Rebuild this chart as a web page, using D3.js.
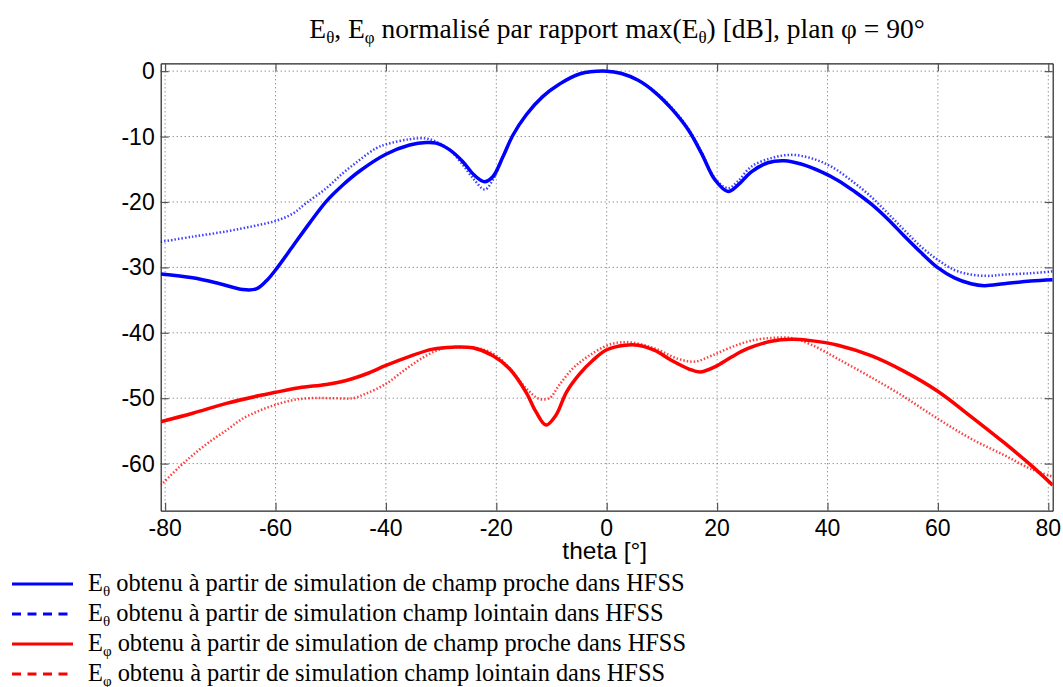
<!DOCTYPE html>
<html><head><meta charset="utf-8">
<script src="https://cdn.jsdelivr.net/npm/d3@7"></script>
<style>body{margin:0;background:#fff}svg{display:block}</style>
</head><body>
<svg id="c" width="1063" height="687"></svg>
<script>
// ---- data ----
const xTicks = [-80, -60, -40, -20, 0, 20, 40, 60, 80];
const yTicks = [0, -10, -20, -30, -40, -50, -60];

const thetaNearTheta = [-80.8,-75,-70.1,-65.9,-63.5,-61.7,-60,-56.9,-53.8,-50.8,-47.8,-44.8,-40,-35.7,-32.7,-30.9,-28.5,-26.1,-24,-22.1,-20.6,-18.8,-17,-14.6,-11.6,-8.6,-4.8,0,2.7,5.7,8.7,11.7,14.8,17.2,19.6,22.0,23.8,26.2,29.2,32.2,35.2,38.9,41.9,44.9,47.9,50.9,53.9,56.9,59.9,63.0,66.0,68.4,72.0,76.8,80.8];
const valNearTheta = [-31.0,-31.6,-32.5,-33.4,-33.3,-32.1,-30.4,-26.8,-23.2,-19.9,-17.4,-15.3,-12.7,-11.3,-10.9,-11.0,-12.0,-13.8,-15.9,-16.9,-16.1,-13.1,-9.8,-6.7,-3.9,-2.0,-0.4,0,-0.36,-1.4,-3.2,-5.7,-9.0,-12.6,-16.6,-18.4,-17.4,-15.4,-14.0,-13.7,-14.2,-15.4,-16.7,-18.4,-20.3,-22.6,-25.2,-27.7,-30.0,-31.6,-32.5,-32.8,-32.5,-32.1,-31.9];

const thetaFarTheta = [-80.8,-75,-68.9,-64.1,-60,-56.9,-54.5,-50.8,-47.8,-44.8,-41.8,-40,-35.7,-32.7,-30.9,-28.5,-26.1,-24,-22.1,-20.6,-18.8,-17,-14.6,-11.6,-8.6,-4.8,0,2.7,5.7,8.7,11.7,14.8,17.2,19.6,22,23.8,26.2,29.8,33.4,37,40.7,44.9,47.9,50.9,53.9,56.9,59.9,63,66,69,72,76.8,80.8];
const valFarTheta = [-26.1,-25.3,-24.5,-23.7,-22.9,-21.8,-20.2,-17.9,-15.6,-13.6,-11.8,-11.2,-10.4,-10.3,-10.8,-12.0,-14.3,-16.6,-18.1,-16.6,-13.1,-9.8,-6.7,-3.9,-2.0,-0.4,0,-0.36,-1.4,-3.1,-5.5,-8.8,-12.4,-16.4,-17.9,-16.8,-14.6,-13.3,-12.8,-13.3,-14.6,-17.1,-19.2,-21.7,-24.3,-26.8,-28.8,-30.4,-31.1,-31.3,-31.1,-30.9,-30.6];

const thetaNearPhi = [-80.8,-75,-68.9,-62.9,-60,-55.7,-50.8,-47.2,-43.6,-40,-35.7,-31.5,-27.9,-24.3,-20.6,-17.6,-14.6,-12.8,-11,-9.2,-7.3,-4.9,-2.5,0,3.3,5.7,8.7,11.7,14.8,16.9,19.6,22.6,25.6,29.8,33.4,37,41.9,47.9,53.9,59.9,66,72,76.8,80.8];
const valNearPhi = [-53.6,-52.3,-50.8,-49.6,-49.1,-48.4,-47.9,-47.3,-46.3,-45.0,-43.6,-42.5,-42.2,-42.3,-43.5,-45.5,-49.1,-52.1,-54.1,-52.6,-49.1,-46.3,-44.2,-42.6,-41.9,-41.9,-42.7,-44.2,-45.5,-46.0,-45.2,-43.7,-42.4,-41.3,-41.0,-41.2,-41.9,-43.5,-45.9,-48.9,-52.8,-56.8,-60.2,-63.3];

const thetaFarPhi = [-80.8,-77.4,-75,-72,-68.9,-65.9,-62.9,-60,-56.9,-53.8,-49.6,-46,-43.6,-40,-36.3,-32.7,-29.7,-26.7,-23.1,-20,-17,-14.6,-12.2,-10.4,-8.6,-6.2,-3.2,0.9,4.5,8.7,13,16,19,22.6,26.2,29.8,33.4,37,41.9,47.9,53.9,59.9,66,72,76.8,80.8];
const valFarPhi = [-63.3,-60.5,-58.7,-56.7,-54.9,-53.1,-51.9,-51.0,-50.3,-50.0,-50.0,-50.0,-49.3,-47.8,-45.5,-43.5,-42.4,-42.2,-42.4,-43.5,-46.0,-48.5,-50.1,-50.0,-48.0,-45.5,-43.5,-41.7,-41.5,-42.4,-44.0,-44.4,-43.5,-42.2,-41.2,-40.8,-40.8,-41.8,-44.0,-46.8,-49.8,-53.1,-56.2,-58.7,-60.8,-62.0];

const legendLabels = [
  ["E","θ"," obtenu à partir de simulation de champ proche dans HFSS"],
  ["E","θ"," obtenu à partir de simulation champ lointain dans HFSS"],
  ["E","φ"," obtenu à partir de simulation de champ proche dans HFSS"],
  ["E","φ"," obtenu à partir de simulation champ lointain dans HFSS"]
];
const xLabel = "theta [°]";

// ---- drawing ----
const svg = d3.select("#c");
svg.append("rect").attr("width",1063).attr("height",687).attr("fill","#fff");
const L = 160.7, R = 1052.7, T = 63.3, B = 510.7;
const x = d3.scaleLinear().domain([-80.8, 80.8]).range([L, R]);
const y = d3.scaleLinear().domain([-67.2, 1.2]).range([B, T]);

const SANS = "'Liberation Sans', Arial, Helvetica, sans-serif";
const SERIF = "'Liberation Serif', 'Times New Roman', serif";
const tickFS = 23;

// grid
const grid = svg.append("g");
grid.selectAll(".gx").data(xTicks).join("line")
  .attr("x1", d=>x(d)).attr("x2", d=>x(d)).attr("y1", T).attr("y2", B)
  .attr("stroke","#666").attr("stroke-width",1).attr("stroke-dasharray","1,3");
grid.selectAll(".gy").data(yTicks).join("line")
  .attr("x1", L).attr("x2", R).attr("y1", d=>y(d)).attr("y2", d=>y(d))
  .attr("stroke","#666").attr("stroke-width",1).attr("stroke-dasharray","1,3");

// axes with inward ticks
const axB = svg.append("g").attr("transform",`translate(0,${B})`)
  .call(d3.axisBottom(x).tickValues(xTicks).tickSizeInner(-8).tickSizeOuter(0).tickFormat(()=>""));
const axT = svg.append("g").attr("transform",`translate(0,${T})`)
  .call(d3.axisTop(x).tickValues(xTicks).tickSizeInner(-8).tickSizeOuter(0).tickFormat(()=>""));
const axL = svg.append("g").attr("transform",`translate(${L},0)`)
  .call(d3.axisLeft(y).tickValues(yTicks).tickSizeInner(-8).tickSizeOuter(0).tickFormat(()=>""));
const axR = svg.append("g").attr("transform",`translate(${R},0)`)
  .call(d3.axisRight(y).tickValues(yTicks).tickSizeInner(-8).tickSizeOuter(0).tickFormat(()=>""));
[axB,axT,axL,axR].forEach(a=>{
  a.select(".domain").attr("stroke","#222").attr("stroke-width",1.2);
  a.selectAll(".tick line").attr("stroke","#555").attr("stroke-width",1.2);
});

// tick labels
svg.append("g").selectAll("text").data(xTicks).join("text")
  .attr("x", d=>x(d)).attr("y", B+25)
  .attr("text-anchor","middle").attr("font-family",SANS).attr("font-size",tickFS)
  .text(d=>String(d));
svg.append("g").selectAll("text").data(yTicks).join("text")
  .attr("x", L-6).attr("y", d=>y(d)+8)
  .attr("text-anchor","end").attr("font-family",SANS).attr("font-size",tickFS)
  .text(d=>String(d));

// x label
svg.append("text").attr("x",(L+R)/2 - 2).attr("y",B+48)
  .attr("text-anchor","middle").attr("font-family",SANS).attr("font-size",24.5).text(xLabel);

// title
const title = svg.append("text").attr("x",617).attr("y",38)
  .attr("text-anchor","middle").attr("font-family",SERIF).attr("font-size",27.5);
title.append("tspan").text("E");
title.append("tspan").attr("font-size",17).attr("dy",5).text("θ");
title.append("tspan").attr("dy",-5).text(", E");
title.append("tspan").attr("font-size",17).attr("dy",5).text("φ");
title.append("tspan").attr("dy",-5).text(" normalisé par rapport max(E");
title.append("tspan").attr("font-size",17).attr("dy",5).text("θ");
title.append("tspan").attr("dy",-5).text(") [dB], plan φ = 90°");

// curves
const line = d3.line().x(d=>x(d[0])).y(d=>y(d[1])).curve(d3.curveCatmullRom.alpha(0.5));
const zip = (a,b)=>a.map((t,i)=>[t,b[i]]);
const series = [
  {t:thetaNearTheta, v:valNearTheta, c:"#0000ff", dash:null},
  {t:thetaFarTheta,  v:valFarTheta,  c:"#0000ff", dash:"1.5,2"},
  {t:thetaNearPhi,   v:valNearPhi,   c:"#ff0000", dash:null},
  {t:thetaFarPhi,    v:valFarPhi,    c:"#ff0000", dash:"1.5,2"}
];
const plot = svg.append("g");
plot.append("defs").append("clipPath").attr("id","clip").append("rect")
  .attr("x",L).attr("y",T).attr("width",R-L).attr("height",B-T);
series.forEach(s=>{
  plot.append("path").attr("d", line(zip(s.t,s.v)))
    .attr("fill","none").attr("stroke",s.c)
    .attr("stroke-width", s.dash ? 2.5 : 3.5)
    .attr("stroke-opacity", s.dash ? 0.75 : 1)
    .attr("stroke-dasharray", s.dash).attr("clip-path","url(#clip)");
});

// legend
const lg = svg.append("g");
legendLabels.forEach((lab,i)=>{
  const s = series[i];
  const yy = 584 + i*30;
  lg.append("line").attr("x1",12).attr("x2",73).attr("y1",yy).attr("y2",yy)
    .attr("stroke",s.c).attr("stroke-width",3)
    .attr("stroke-dasharray", s.dash ? "9,6.5" : null);
  const t = lg.append("text").attr("x",88).attr("y",yy+7)
    .attr("font-family",SERIF).attr("font-size",24.4);
  t.append("tspan").text(lab[0]);
  t.append("tspan").attr("font-size",15).attr("dy",5).text(lab[1]);
  t.append("tspan").attr("dy",-5).text(lab[2]);
});
</script>
</body></html>
